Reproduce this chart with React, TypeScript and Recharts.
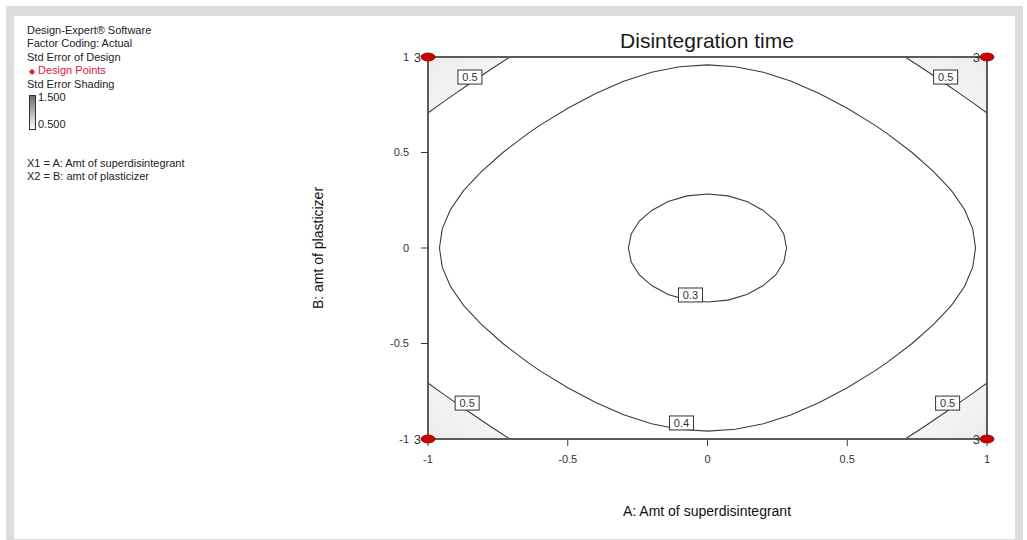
import { ComposedChart, XAxis, YAxis, Scatter, Area, ReferenceArea } from "recharts";

// coded factor levels
const axisTicks = [-1, -0.5, 0, 0.5, 1];

// design points (4 corners, 3 replicates each)
const designX = [-1, 1, -1, 1];
const designY = [1, 1, -1, -1];
const designReps = [3, 3, 3, 3];

// std error contour 0.3 (closed)
const contour03: [number, number][] = [
  [0.283, 0], [0.273, 0.073], [0.244, 0.141], [0.198, 0.198], [0.141, 0.244], [0.073, 0.273],
  [0, 0.283], [-0.073, 0.273], [-0.141, 0.244], [-0.198, 0.198], [-0.244, 0.141], [-0.273, 0.073],
  [-0.283, 0], [-0.273, -0.073], [-0.244, -0.141], [-0.198, -0.198], [-0.141, -0.244], [-0.073, -0.273],
  [0, -0.283], [0.073, -0.273], [0.141, -0.244], [0.198, -0.198], [0.244, -0.141], [0.273, -0.073],
  [0.283, 0],
];

// std error contour 0.4 (closed)
const contour04: [number, number][] = [
  [0.959, 0], [0.949, 0.1], [0.92, 0.2], [0.873, 0.3], [0.809, 0.4], [0.732, 0.5], [0.642, 0.6],
  [0.6, 0.642], [0.5, 0.732], [0.4, 0.809], [0.3, 0.873], [0.2, 0.92], [0.1, 0.949], [0, 0.959],
  [-0.1, 0.949], [-0.2, 0.92], [-0.3, 0.873], [-0.4, 0.809], [-0.5, 0.732], [-0.6, 0.642],
  [-0.642, 0.6], [-0.732, 0.5], [-0.809, 0.4], [-0.873, 0.3], [-0.92, 0.2], [-0.949, 0.1], [-0.959, 0],
  [-0.949, -0.1], [-0.92, -0.2], [-0.873, -0.3], [-0.809, -0.4], [-0.732, -0.5], [-0.642, -0.6],
  [-0.6, -0.642], [-0.5, -0.732], [-0.4, -0.809], [-0.3, -0.873], [-0.2, -0.92], [-0.1, -0.949], [0, -0.959],
  [0.1, -0.949], [0.2, -0.92], [0.3, -0.873], [0.4, -0.809], [0.5, -0.732], [0.6, -0.642],
  [0.642, -0.6], [0.732, -0.5], [0.809, -0.4], [0.873, -0.3], [0.92, -0.2], [0.949, -0.1], [0.959, 0],
];

// std error contour 0.5 in each corner
const cornerTL: [number, number][] = [[-1, 0.707], [-0.95, 0.76], [-0.9, 0.811], [-0.85, 0.861], [-0.8, 0.911], [-0.75, 0.959], [-0.707, 1]];
const cornerTR: [number, number][] = [[0.707, 1], [0.75, 0.959], [0.8, 0.911], [0.85, 0.861], [0.9, 0.811], [0.95, 0.76], [1, 0.707]];
const cornerBL: [number, number][] = [[-1, -0.707], [-0.95, -0.76], [-0.9, -0.811], [-0.85, -0.861], [-0.8, -0.911], [-0.75, -0.959], [-0.707, -1]];
const cornerBR: [number, number][] = [[0.707, -1], [0.75, -0.959], [0.8, -0.911], [0.85, -0.861], [0.9, -0.811], [0.95, -0.76], [1, -0.707]];

// contour label boxes
const labelX = [-0.85, 0.852, -0.86, 0.859, -0.061, -0.093];
const labelY = [0.895, 0.895, -0.812, -0.812, -0.246, -0.916];
const labelText = ["0.5", "0.5", "0.5", "0.5", "0.3", "0.4"];

const toPts = (a: [number, number][]) => a.map(([x, y]) => ({ x, y }));

const designData = designX.map((x, i) => ({ x, y: designY[i], n: designReps[i] }));
const labelData = labelX.map((x, i) => ({ x, y: labelY[i], t: labelText[i] }));

const LINE = "#3c3c3c";
const FONT = "'Liberation Sans', Arial, sans-serif";

const corners = [
  { id: "tl", pts: cornerTL, base: 1, g: [0, 0, 1, 1] },
  { id: "tr", pts: cornerTR, base: 1, g: [1, 0, 0, 1] },
  { id: "bl", pts: cornerBL, base: -1, g: [0, 1, 1, 0] },
  { id: "br", pts: cornerBR, base: -1, g: [1, 1, 0, 0] },
];

const Nothing = () => <g />;

const DesignPoint = (p: any) => (
  <g>
    <text x={p.cx - 7} y={p.cy + 5} textAnchor="end" fontSize={13} fill="#333" fontFamily={FONT}>
      {p.payload.n}
    </text>
    <ellipse cx={p.cx} cy={p.cy} rx={7} ry={4} fill="#cc0000" stroke="#8a0000" strokeWidth={0.8} />
  </g>
);

const ContourLabel = (p: any) => (
  <g>
    <rect x={p.cx - 12} y={p.cy - 7} width={24} height={14} fill="#fff" stroke="#333" strokeWidth={1} />
    <text x={p.cx} y={p.cy + 4} textAnchor="middle" fontSize={11} fill="#333" fontFamily={FONT}>
      {p.payload.t}
    </text>
  </g>
);

const legendLines = [
  { t: "Design-Expert® Software", y: 31 },
  { t: "Factor Coding: Actual", y: 44 },
  { t: "Std Error of Design", y: 58 },
  { t: "Std Error Shading", y: 85 },
  { t: "X1 = A: Amt of superdisintegrant", y: 164 },
  { t: "X2 = B: amt of plasticizer", y: 177 },
];

export default function App() {
  return (
    <div style={{ position: "absolute", left: 0, top: 0, width: 1027, height: 540, background: "#fff", overflow: "hidden", fontFamily: FONT }}>
      <div style={{ position: "absolute", left: 6, top: 6, width: 1001, height: 523, border: "solid #dcdcdc", borderWidth: "10px 8px 7px 8px" }} />

      {legendLines.map((l) => (
        <div key={l.t} style={{ position: "absolute", left: 27, top: l.y - 7, fontSize: 11, color: "#222", whiteSpace: "nowrap" }}>{l.t}</div>
      ))}
      <div style={{ position: "absolute", left: 29, top: 64, fontSize: 11, color: "#d4213d", whiteSpace: "nowrap" }}>
        <span style={{ fontSize: 8, marginRight: 3 }}>◆</span>Design Points
      </div>
      <div style={{ position: "absolute", left: 29, top: 95, width: 5, height: 33, border: "1px solid #333", background: "linear-gradient(#6e6e6e, #ffffff)" }} />
      <div style={{ position: "absolute", left: 38, top: 91, fontSize: 11, color: "#222" }}>1.500</div>
      <div style={{ position: "absolute", left: 38, top: 118, fontSize: 11, color: "#222" }}>0.500</div>

      <div style={{ position: "absolute", left: 507, width: 400, top: 29, textAlign: "center", fontSize: 21, color: "#1a1a1a" }}>Disintegration time</div>
      <div style={{ position: "absolute", left: 507, width: 400, top: 503, textAlign: "center", fontSize: 14, color: "#111" }}>A: Amt of superdisintegrant</div>
      <div style={{ position: "absolute", left: 218, width: 200, top: 240, textAlign: "center", fontSize: 14, color: "#111", transform: "rotate(-90deg)" }}>B: amt of plasticizer</div>

      <div style={{ position: "absolute", left: 0, top: 0 }}>
        <ComposedChart width={1027} height={540} margin={{ top: 57, right: 40, bottom: 61, left: 368 }}>
          <defs>
            {corners.map((c) => (
              <linearGradient key={c.id} id={"g" + c.id} x1={c.g[0]} y1={c.g[1]} x2={c.g[2]} y2={c.g[3]}>
                <stop offset="0%" stopColor="#ebebeb" />
                <stop offset="100%" stopColor="#fcfcfc" />
              </linearGradient>
            ))}
          </defs>
          <XAxis
            dataKey="x"
            type="number"
            domain={[-1, 1]}
            ticks={axisTicks}
            height={40}
            axisLine={false}
            tickSize={7}
            tickMargin={9}
            tickLine={{ stroke: LINE }}
            tick={{ fontSize: 11, fill: "#333", fontFamily: FONT }}
          />
          <YAxis
            dataKey="y"
            type="number"
            domain={[-1, 1]}
            ticks={axisTicks}
            width={60}
            axisLine={false}
            tickSize={7}
            tickMargin={12}
            tickLine={{ stroke: LINE }}
            tick={{ fontSize: 11, fill: "#333", fontFamily: FONT }}
          />
          {corners.map((c) => (
            <Area
              key={c.id}
              data={toPts(c.pts)}
              dataKey="y"
              type="linear"
              baseValue={c.base}
              fill={"url(#g" + c.id + ")"}
              fillOpacity={1}
              stroke={LINE}
              strokeWidth={1.1}
              dot={false}
              activeDot={false}
              isAnimationActive={false}
            />
          ))}
          <Scatter data={toPts(contour03)} line={{ stroke: LINE, strokeWidth: 1.1 }} shape={Nothing} isAnimationActive={false} />
          <Scatter data={toPts(contour04)} line={{ stroke: LINE, strokeWidth: 1.1 }} shape={Nothing} isAnimationActive={false} />
          <ReferenceArea x1={-1} x2={1} y1={-1} y2={1} fill="none" stroke="#5c5c5c" strokeWidth={2} fillOpacity={0} />
          <Scatter data={labelData} shape={ContourLabel} isAnimationActive={false} />
          <Scatter data={designData} shape={DesignPoint} isAnimationActive={false} />
        </ComposedChart>
      </div>
    </div>
  );
}
